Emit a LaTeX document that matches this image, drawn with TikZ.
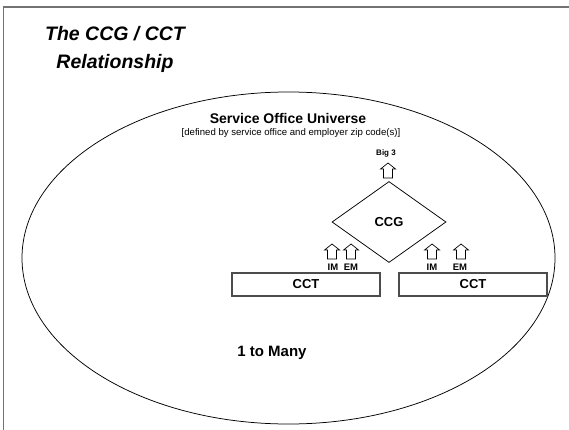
\documentclass[tikz,border=0pt]{standalone}
\usepackage{fontspec}
\setmainfont{Liberation Sans}
\usetikzlibrary{shapes.geometric}
\begin{document}
\begin{tikzpicture}[x=1pt,y=-1pt,
  frameline/.style={draw=black!55,line width=1.3pt},
  outline/.style={draw=black,line width=0.75pt},
  cctbox/.style={draw=black!70,line width=1.2pt,minimum width=148pt,minimum height=23pt,inner sep=0pt,font=\fontsize{13}{15}\selectfont\bfseries},
  lbl/.style={inner sep=0pt,font=\fontsize{9.5}{11}\selectfont\bfseries},
  uparrow/.pic={\draw[draw=black,line width=0.7pt,fill=white]
     (-4.5,0) -- (-4.5,-9) -- (-7.5,-9) -- (0,-15) -- (7.5,-9) -- (4.5,-9) -- (4.5,0) -- cycle;}]
\useasboundingbox (0,0) rectangle (569,430);
% slide frame: top and left edges only
\draw[frameline] (3.5,430) -- (3.5,7) -- (569,7);
% title
\node[inner sep=0pt,align=center,font=\fontsize{19.5}{28}\selectfont\bfseries\itshape] (title) at (115,49.5) {The CCG / CCT\\Relationship};
% universe
\node[outline,ellipse,minimum width=533pt,minimum height=332pt,inner sep=0pt] (universe) at (288.5,258) {};
\node[inner sep=0pt,font=\fontsize{14}{16}\selectfont\bfseries] (univlabel) at (288,118) {Service Office Universe};
\node[inner sep=0pt,font=\fontsize{9.6}{11}\selectfont] (univnote) at (291,133) {[defined by service office and employer zip code(s)]};
% CCG
\node[outline,diamond,minimum width=114pt,minimum height=81pt,inner sep=0pt,font=\fontsize{13}{15}\selectfont\bfseries] (ccg) at (389,222) {CCG};
\pic at (388,178) {uparrow};
\node[inner sep=0pt,font=\fontsize{8}{10}\selectfont\bfseries] (big) at (386,153) {Big 3};
% CCT boxes
\node[cctbox] (cctA) at (306,284.5) {CCT};
\node[cctbox] (cctB) at (473,284.5) {CCT};
\pic at (332,259) {uparrow};
\pic at (351,259) {uparrow};
\pic at (432,259) {uparrow};
\pic at (461,259) {uparrow};
\node[lbl] (imA) at (333,267.5) {IM};
\node[lbl] (emA) at (351,267.5) {EM};
\node[lbl] (imB) at (432,267.5) {IM};
\node[lbl] (emB) at (460,267.5) {EM};
% cardinality
\node[inner sep=0pt,font=\fontsize{15}{17}\selectfont\bfseries] (card) at (272,353) {1 to Many};
\end{tikzpicture}
\end{document}
